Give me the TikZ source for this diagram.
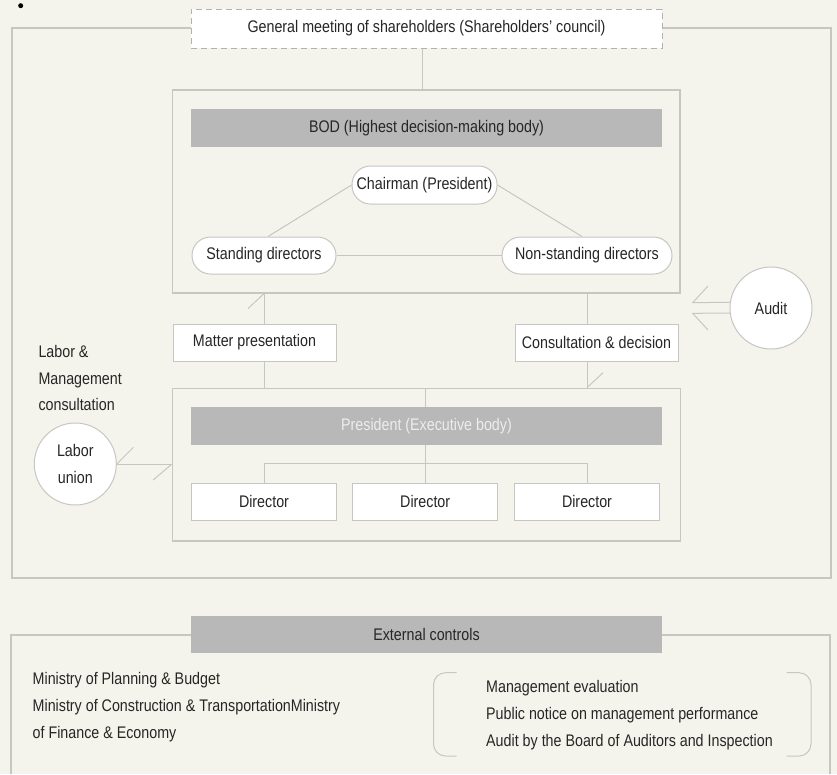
\documentclass[tikz,border=0pt]{standalone}
\usepackage{fontspec}
\setmainfont{Liberation Sans}[FakeStretch=0.85]
\usetikzlibrary{calc}
\definecolor{bgc}{HTML}{F5F4EC}
\definecolor{lc}{HTML}{C6C6C2}
\definecolor{barc}{HTML}{B8B8B8}
\definecolor{tc}{HTML}{262626}
\definecolor{ltc}{HTML}{EDEDED}
\begin{document}
\begin{tikzpicture}[x=1pt,y=-1pt,
  font=\fontsize{16.8}{20}\selectfont,
  every node/.style={text=tc},
  ln/.style={draw=lc, line width=1pt},
  frame/.style={draw=lc, line width=1.2pt, inner sep=0, minimum height=37},
  box/.style={draw=lc, fill=white, line width=1pt, inner sep=0, minimum height=37},
  pill/.style={box, rounded corners=18.5},
  bar/.style={fill=barc, inner sep=0, minimum width=471, minimum height=38},
  circ/.style={circle, draw=lc, fill=white, line width=1pt, inner sep=0, minimum size=82},
  lbl/.style={anchor=base west, inner sep=0}]
\fill[bgc] (0,0) rectangle (837,774);
\useasboundingbox (0,0) rectangle (837,774);

\node[circle, fill=black, inner sep=0, minimum size=5] (dot) at (20.7,5.7) {};

% outer frame
\node[frame, minimum width=819, minimum height=550] (outer) at (421.5,303) {};
\node[box, draw=lc!90!black, dash pattern=on 6pt off 4pt, minimum width=471, minimum height=39] (gm) at (426.5,28.5) {General meeting of shareholders (Shareholders’ council)};

% BOD
\node[frame, minimum width=507.5, minimum height=203] (bodf) at (426.25,191.5) {};
\node[bar] (bodbar) at (426.5,128) {BOD (Highest decision-making body)};
\node[pill, minimum width=145, minimum height=38] (chair) at (424.5,185) {Chairman (President)};
\node[pill, minimum width=144] (stand) at (264,255.5) {Standing directors};
\node[pill, minimum width=170] (nonst) at (587,255.5) {Non-standing directors};
\draw[ln] ([xshift=-4.5]gm.south) -- ([xshift=-4.5]gm.south |- bodf.north);
\draw[ln] (chair.west) -- ([xshift=4]stand.north);
\draw[ln] (chair.east) -- ([xshift=-5]nonst.north);
\draw[ln] (stand.east) -- (nonst.west);

% middle boxes
\node[box, minimum width=163] (matter) at (254.5,342.5) {Matter presentation};
\node[box, minimum width=163] (consult) at (596.5,342.5) {Consultation \& decision};

% President
\node[frame, minimum width=508, minimum height=152.7] (presf) at (426.5,464.65) {};
\node[bar, text=ltc, minimum height=37.4] (presbar) at (426.5,426) {President (Executive body)};
\node[box, minimum width=145] (d1) at (264,501.7) {Director};
\node[box, minimum width=145] (d2) at (425.2,501.7) {Director};
\node[box, minimum width=145] (d3) at (587,501.7) {Director};
\draw[ln] (presf.north -| d2) -- (presbar.north -| d2);
\draw[ln] (presbar.south -| d2) -- (d2.north);
\draw[ln] (d1.north) -- ++(0,-19.5) -| (d3.north);

% connectors between BOD and President
\draw[ln] (bodf.south -| stand) -- (matter.north -| stand);
\draw[ln] (matter.south -| stand) -- (presf.north -| stand);
\draw[ln] (bodf.south -| stand) -- ++(-16,15);
\draw[ln] (bodf.south -| nonst) -- (consult.north -| nonst);
\draw[ln] (consult.south -| nonst) -- (presf.north -| nonst);
\draw[ln] (presf.north -| nonst) -- ++(16,-15);

% Audit
\node[circ] (audit) at (771,308) {Audit};
\coordinate (a1) at (692.7,302.7);
\coordinate (a2) at (692.7,313.3);
\draw[ln] (audit.172.6) -- (a1) -- ++(15.3,-16.7);
\draw[ln] (audit.187.4) -- (a2) -- ++(15.3,16.7);

% Labor union
\node[circ, align=center, font=\fontsize{16.8}{27}\selectfont] (union) at (75.3,464) {Labor\\union};
\draw[ln] (union.east) -- (presf.west |- union);
\draw[ln] (union.east) -- ++(16.6,-16.7);
\draw[ln] (presf.west |- union) -- ++(-18.7,16);
\node[lbl] (l1) at (38.3,357.7) {Labor \&};
\node[lbl] (l2) at (38.3,384.2) {Management};
\node[lbl] (l3) at (38.3,410.4) {consultation};

% External controls
\draw[ln, line width=1.2pt] (11,774) -- (11,635) -- (830,635) -- (830,774);
\node[bar, minimum height=37.3] (ext) at (426.5,634.7) {External controls};
\node[lbl] (e1) at (32.5,684.7) {Ministry of Planning \& Budget};
\node[lbl] (e2) at (32.5,711.7) {Ministry of Construction \& TransportationMinistry};
\node[lbl] (e3) at (32.5,738.5) {of Finance \& Economy};
\draw[ln, rounded corners=12] (456.5,672.7) -- (433.5,672.7) -- (433.5,756) -- (456.5,756);
\draw[ln, rounded corners=12] (786.5,672.7) -- (811,672.7) -- (811,756) -- (786.5,756);
\node[lbl] (r1) at (486,692) {Management evaluation};
\node[lbl] (r2) at (486,719) {Public notice on management performance};
\node[lbl] (r3) at (486,746) {Audit by the Board of Auditors and Inspection};
\end{tikzpicture}
\end{document}
